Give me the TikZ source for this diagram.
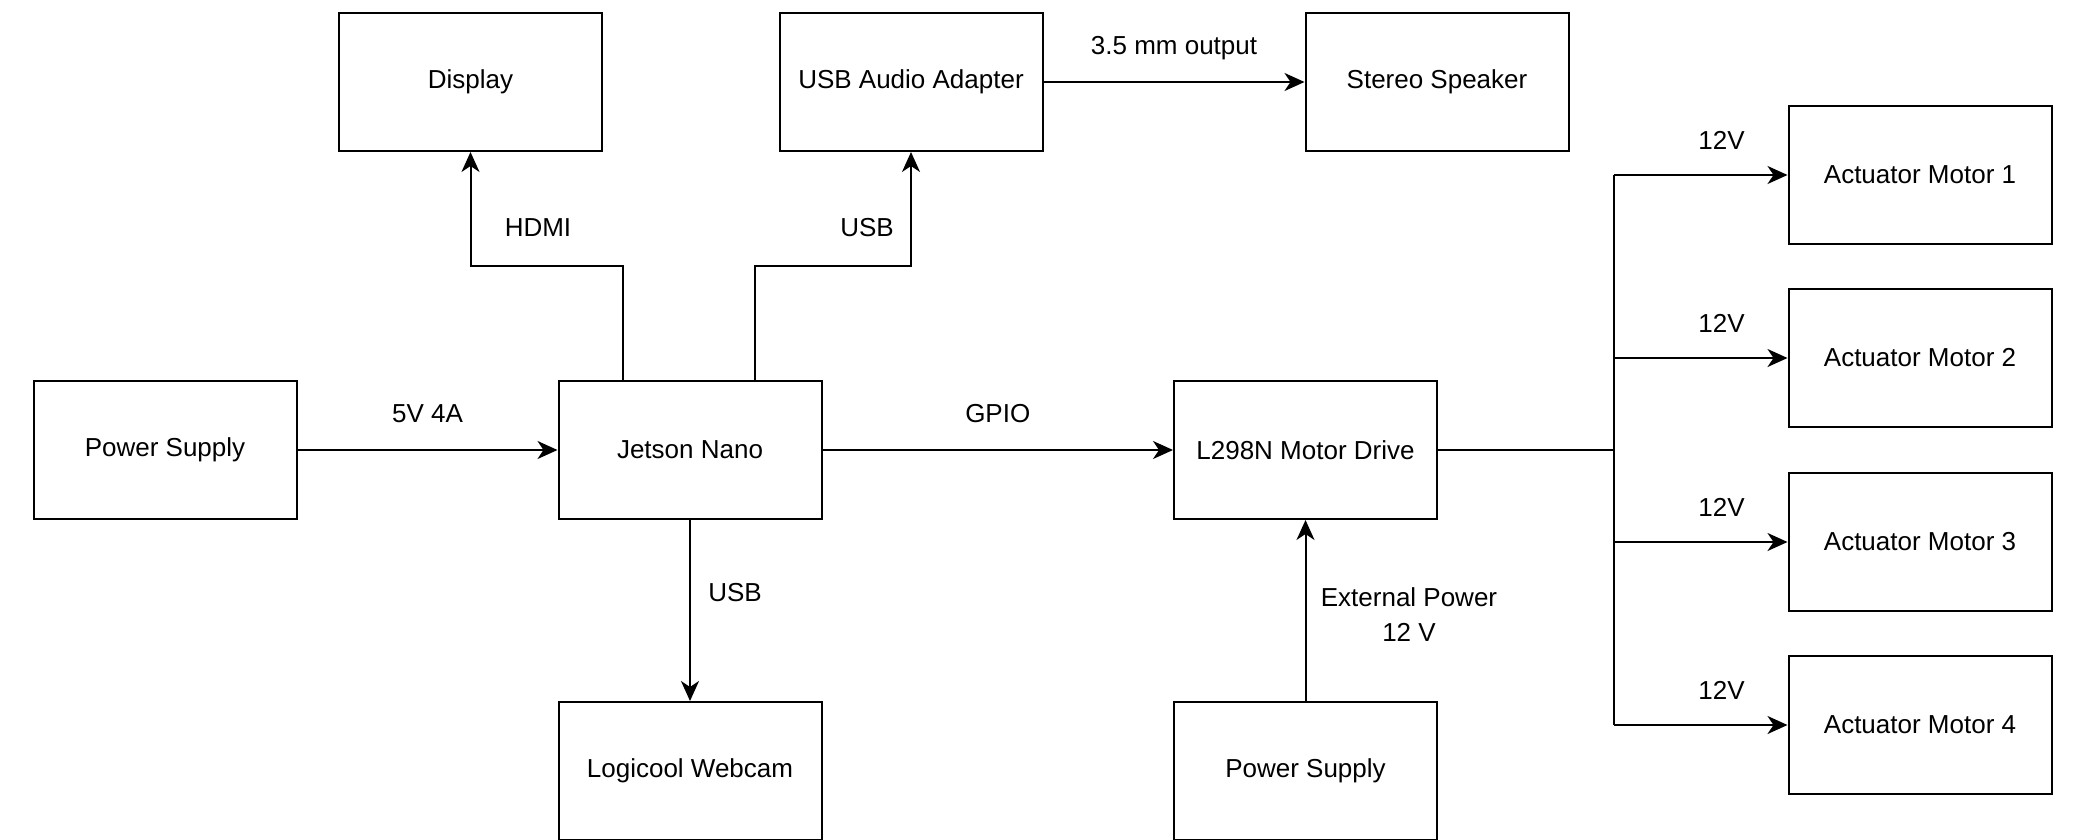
\documentclass[tikz,border=0pt]{standalone}
\usepackage{fontspec}
\setmainfont{Liberation Sans}
\usetikzlibrary{arrows.meta}

\begin{document}
\begin{tikzpicture}[x=0.5pt,y=-0.5pt,
  blkBox/.style={draw, line width=1pt, minimum width=131.5pt, minimum height=69pt, inner sep=0pt, font=\fontsize{13pt}{17.5pt}\selectfont},
  blkLink/.style={line width=1pt},
  blkArrow/.style={blkLink, -{Stealth[length=10pt,width=9pt,inset=3pt]}},
  blkLabel/.style={inner sep=0pt, align=center, font=\fontsize{13pt}{17.5pt}\selectfont}]
\useasboundingbox (0,0) rectangle (2076,840);
\node[blkBox] (display) at (470.5,82) {Display};
\node[blkBox] (audio) at (911,82) {USB Audio Adapter};
\node[blkBox] (speaker) at (1437,82) {Stereo Speaker};
\node[blkBox] (psuMain) at (165,450) {Power Supply};
\node[blkBox] (jetson) at (690,450) {Jetson Nano};
\node[blkBox] (driver) at (1305.5,450) {L298N Motor Drive};
\node[blkBox] (webcam) at (690,771) {Logicool Webcam};
\node[blkBox] (psuMotor) at (1305.5,771) {Power Supply};
\foreach \i/\y in {1/175,2/358,3/542,4/725}
  \node[blkBox] (motor\i) at (1920,\y) {Actuator Motor \i};
\coordinate (hdmiBend) at (470.5,266);
\coordinate (usbBend) at (911,266);
\coordinate (busJoin) at (1614,450);
\draw[blkArrow] (psuMain.east) -- node[blkLabel, midway, yshift=18pt] (lblPower) {5V 4A} (jetson.west);
\draw[blkArrow] (jetson.east) -- node[blkLabel, midway, yshift=18pt] (lblGpio) {GPIO} (driver.west);
\draw[blkArrow] (audio.east) -- node[blkLabel, midway, yshift=17pt] (lblJack) {3.5 mm output} (speaker.west);
\draw[blkArrow] ([xshift=-33.5pt]jetson.north) |- (hdmiBend) -- (display.south);
\draw[blkArrow] ([xshift=32.5pt]jetson.north) |- (usbBend) -- (audio.south);
\draw[blkArrow] (jetson.south) -- (webcam.north);
\draw[blkArrow] (psuMotor.north) -- (driver.south);
\node[blkLabel] (lblHdmi) at (538,228) {HDMI};
\node[blkLabel] (lblUsbAudio) at (867,228) {USB};
\node[blkLabel] (lblUsbCam) at (735,593) {USB};
\node[blkLabel] (lblExtPower) at (1409,615) {External Power\\12 V};
\draw[blkLink] (driver.east) -- (busJoin);
\draw[blkLink] (busJoin |- motor1.west) -- (busJoin |- motor4.west);
\foreach \i in {1,...,4}
  \draw[blkArrow] (busJoin |- motor\i.west) -- node[blkLabel, pos=0.62, yshift=17.5pt] (lblMotor\i) {12V} (motor\i.west);
\end{tikzpicture}
\end{document}
